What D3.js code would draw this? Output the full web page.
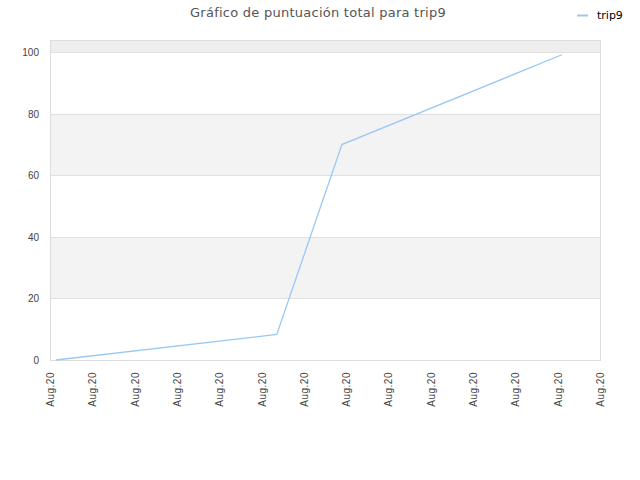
<!DOCTYPE html>
<html lang="es">
<head>
    <meta charset="UTF-8">
    <title>Gráfico de puntuación total para trip9</title>
    <script src="https://d3js.org/d3.v7.min.js"></script>
    <style>
        body { margin: 0; background: #fff; }
        svg { display: block; font-family: "DejaVu Sans", sans-serif; }
        .title { font-size: 13px; fill: #555; text-anchor: middle; letter-spacing: 0.25px; }
        .axis text { font-size: 10px; fill: #444; }
        .axis--x text { letter-spacing: 0.5px; }
        .axis path, .axis line { display: none; }
        .legend text { font-size: 11px; fill: #000; }
    </style>
</head>
<body>
<div id="chart"></div>
<script>
    // tick labels along the x axis (all the same date)
    var xTickLabels = ["Aug.20", "Aug.20", "Aug.20", "Aug.20", "Aug.20", "Aug.20", "Aug.20",
                       "Aug.20", "Aug.20", "Aug.20", "Aug.20", "Aug.20", "Aug.20", "Aug.20"];
    // position of each point, in units of the tick spacing
    var pointPos = [0.14, 5.36, 6.9, 12.1];
    // total score of trip9
    var scores = [0, 8.3, 70, 99.2];
    var yTicks = [0, 20, 40, 60, 80, 100];
    var seriesName = "trip9";

    var svg = d3.select("#chart").append("svg")
            .attr("width", 640)
            .attr("height", 480),
        margin = {top: 40, right: 40, bottom: 120, left: 50},
        width = +svg.attr("width") - margin.left - margin.right,
        height = +svg.attr("height") - margin.top - margin.bottom;

    var x = d3.scaleLinear().domain([0, xTickLabels.length - 1]).range([0, width]),
        y = d3.scaleLinear().domain([0, 104]).range([height, 0]);

    var g = svg.append("g")
        .attr("transform", "translate(" + margin.left + "," + margin.top + ")");

    // alternating background bands
    var bands = [[20, 40], [60, 80], [100, 104]];
    g.selectAll(".band")
        .data(bands)
        .enter().append("rect")
        .attr("class", "band")
        .attr("x", 0)
        .attr("width", width)
        .attr("y", function(d) { return y(d[1]); })
        .attr("height", function(d) { return y(d[0]) - y(d[1]); })
        .attr("fill", function(d) { return d[0] === 100 ? "#eeeeee" : "#f3f3f3"; });

    // horizontal grid lines
    g.selectAll(".grid")
        .data(yTicks.slice(1))
        .enter().append("line")
        .attr("x1", 0)
        .attr("x2", width)
        .attr("y1", function(d) { return Math.round(y(d)) + 0.5; })
        .attr("y2", function(d) { return Math.round(y(d)) + 0.5; })
        .attr("stroke", "#e0e0e0");

    // frame
    g.append("rect")
        .attr("x", 0.5)
        .attr("y", 0.5)
        .attr("width", width)
        .attr("height", height)
        .attr("fill", "none")
        .attr("stroke", "#dddddd");

    // y axis
    g.append("g")
        .attr("class", "axis axis--y")
        .call(d3.axisLeft(y).tickValues(yTicks).tickSize(0).tickPadding(11));

    // x axis with rotated labels
    g.append("g")
        .attr("class", "axis axis--x")
        .attr("transform", "translate(0," + height + ")")
        .call(d3.axisBottom(x)
            .tickValues(d3.range(xTickLabels.length))
            .tickFormat(function(i) { return xTickLabels[i]; })
            .tickSize(0))
        .selectAll("text")
        .attr("transform", "rotate(-90)")
        .attr("x", -12)
        .attr("y", 0)
        .attr("dy", "0.35em")
        .style("text-anchor", "end");

    // the series line
    var line = d3.line()
        .x(function(d, i) { return x(pointPos[i]); })
        .y(function(d) { return y(d); });

    g.append("path")
        .datum(scores)
        .attr("fill", "none")
        .attr("stroke", "#99c8f4")
        .attr("stroke-width", 1.3)
        .attr("d", line);

    // title
    svg.append("text")
        .attr("class", "title")
        .attr("x", 318)
        .attr("y", 17)
        .text("Gráfico de puntuación total para trip9");

    // legend
    var legend = svg.append("g").attr("class", "legend");
    legend.append("line")
        .attr("x1", 577).attr("x2", 588)
        .attr("y1", 15.5).attr("y2", 15.5)
        .attr("stroke", "#99c8f4")
        .attr("stroke-width", 2);
    legend.append("text")
        .attr("x", 597)
        .attr("y", 19)
        .text(seriesName);
</script>
</body>
</html>
